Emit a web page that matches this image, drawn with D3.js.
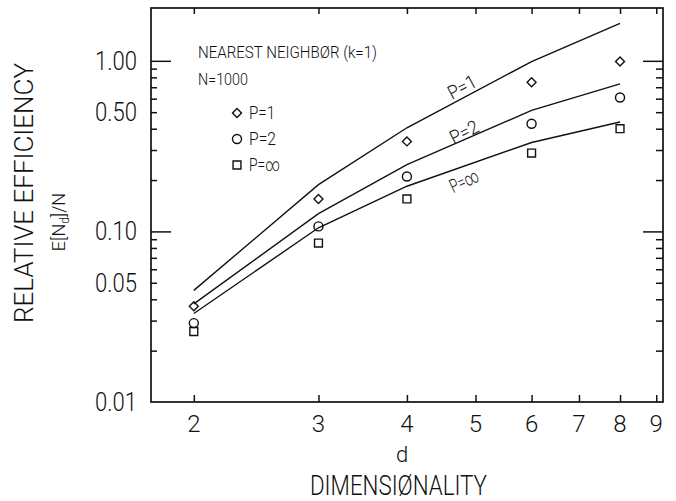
<!DOCTYPE html>
<html>
<head>
<meta charset="utf-8">
<script src="https://cdn.jsdelivr.net/npm/d3@7"></script>
<style>
  body { margin: 0; background: #fff; }
  svg { display: block; }
  text { font-family: Roboto, "DejaVu Sans", sans-serif; font-weight: 300; fill: #111; }
</style>
</head>
<body>
<svg id="chart" width="676" height="501"></svg>
<script>
// Dimensionality values at which efficiencies were evaluated
const dims = [2, 3, 4, 6, 8];

// Simulated relative efficiency E[N_d]/N (markers)
const effP1   = [0.0364, 0.155, 0.337, 0.748, 0.99];
const effP2   = [0.029, 0.107, 0.210, 0.428, 0.610];
const effPinf = [0.0259, 0.0855, 0.155, 0.288, 0.40];

// Predicted relative efficiency (curves)
const curveP1   = [0.0451, 0.188, 0.405, 0.99, 1.66];
const curveP2   = [0.0376, 0.127, 0.246, 0.512, 0.733];
const curvePinf = [0.033, 0.105, 0.184, 0.332, 0.438];

// Axis ticks
const xTicks = [2, 3, 4, 5, 6, 7, 8, 9];
const yLabelTicks = [0.01, 0.05, 0.1, 0.5, 1];
const yLabelText = ["0.01", "0.05", "0.10", "0.50", "1.00"];
const yMajorTicks = [0.1, 1];
const yMinorTicks = [0.02, 0.03, 0.04, 0.05, 0.06, 0.07, 0.08, 0.09,
                     0.2, 0.3, 0.4, 0.5, 0.6, 0.7, 0.8, 0.9];

const svg = d3.select("#chart");
const frameL = 151, frameR = 663, frameT = 8, frameB = 402;

const x = d3.scaleLog().domain([1.74, 9.2]).range([frameL, frameR]);
const y = d3.scaleLog().domain([0.01, 2.04]).range([frameB, frameT]);

// Plot frame
svg.append("rect")
  .attr("x", frameL).attr("y", frameT)
  .attr("width", frameR - frameL).attr("height", frameB - frameT)
  .attr("fill", "none").attr("stroke", "#111").attr("stroke-width", 1.7);

// Inward ticks on all four sides
function tickAxis(axis, tx, ty) {
  const g = svg.append("g").attr("transform", `translate(${tx},${ty})`).call(axis);
  g.select(".domain").remove();
  g.selectAll(".tick line").attr("stroke", "#111").attr("stroke-width", 1.5);
  g.selectAll(".tick text").remove();
  return g;
}
tickAxis(d3.axisBottom(x).tickValues(xTicks).tickSize(-7).tickFormat(""), 0, frameB);
tickAxis(d3.axisTop(x).tickValues(xTicks).tickSize(-6).tickFormat(""), 0, frameT);
tickAxis(d3.axisLeft(y).tickValues(yMinorTicks).tickSize(-6).tickFormat(""), frameL, 0);
tickAxis(d3.axisLeft(y).tickValues(yMajorTicks).tickSize(-20).tickFormat(""), frameL, 0);
tickAxis(d3.axisRight(y).tickValues(yMinorTicks).tickSize(-7).tickFormat(""), frameR, 0);
tickAxis(d3.axisRight(y).tickValues(yMajorTicks).tickSize(-20).tickFormat(""), frameR, 0);

// Tick labels
svg.append("g").selectAll("text").data(yLabelTicks).join("text")
  .attr("x", 137).attr("y", d => y(d) + 9)
  .attr("text-anchor", "end")
  .attr("font-size", 25)
  .attr("textLength", 42).attr("lengthAdjust", "spacingAndGlyphs")
  .text((d, i) => yLabelText[i]);

svg.append("g").selectAll("text").data(xTicks).join("text")
  .attr("x", d => x(d)).attr("y", 432)
  .attr("text-anchor", "middle")
  .attr("font-size", 24)
  .text(d => d);

// Axis titles
svg.append("text")
  .attr("transform", "translate(33,193) rotate(-90)")
  .attr("text-anchor", "middle").attr("font-size", 25)
  .attr("textLength", 260).attr("lengthAdjust", "spacingAndGlyphs")
  .text("RELATIVE EFFICIENCY");

const yt2 = svg.append("text")
  .attr("transform", "translate(65,222) rotate(-90)")
  .attr("text-anchor", "middle").attr("font-size", 18)
  .attr("font-weight", 400);
yt2.append("tspan").text("E[N");
yt2.append("tspan").attr("font-size", 12).attr("dy", 4).text("d");
yt2.append("tspan").attr("dy", -4).text("]/N");

svg.append("text")
  .attr("x", 402).attr("y", 462)
  .attr("text-anchor", "middle").attr("font-size", 22)
  .text("d");

svg.append("text")
  .attr("x", 398.5).attr("y", 495)
  .attr("text-anchor", "middle").attr("font-size", 27)
  .attr("textLength", 177).attr("lengthAdjust", "spacingAndGlyphs")
  .text("DIMENSIØNALITY");

// Annotations
svg.append("text")
  .attr("x", 198).attr("y", 58).attr("font-size", 17)
  .attr("textLength", 179).attr("lengthAdjust", "spacingAndGlyphs")
  .text("NEAREST NEIGHBØR (k=1)");
svg.append("text")
  .attr("x", 198).attr("y", 85).attr("font-size", 17)
  .attr("textLength", 50).attr("lengthAdjust", "spacingAndGlyphs")
  .text("N=1000");

// Curves
const line = d3.line().x(d => x(d[0])).y(d => y(d[1]));
[curveP1, curveP2, curvePinf].forEach(vals => {
  svg.append("path")
    .datum(dims.map((d, i) => [d, vals[i]]))
    .attr("d", line)
    .attr("fill", "none").attr("stroke", "#111").attr("stroke-width", 1.4);
});

// Curve labels
const curveLabels = [
  { text: "P=1", cx: 462, cy: 87, angle: -28 },
  { text: "P=2", cx: 464, cy: 132, angle: -27 },
  { text: "P=∞", cx: 464, cy: 181, angle: -25 }
];
svg.append("g").selectAll("text").data(curveLabels).join("text")
  .attr("transform", d => `translate(${d.cx},${d.cy}) rotate(${d.angle})`)
  .attr("text-anchor", "middle").attr("dy", "0.35em")
  .attr("font-size", 19)
  .attr("textLength", 30).attr("lengthAdjust", "spacingAndGlyphs")
  .text(d => d.text);

// Markers
const markerSeries = [
  { vals: effP1, type: d3.symbolSquare, size: 40, rot: 45, label: "P=1", ly: 113, tl: 26 },
  { vals: effP2, type: d3.symbolCircle, size: 64, rot: 0, label: "P=2", ly: 139, tl: 27 },
  { vals: effPinf, type: d3.symbolSquare, size: 62, rot: 0, label: "P=∞", ly: 165, tl: 31 }
];
markerSeries.forEach(s => {
  const sym = d3.symbol().type(s.type).size(s.size);
  svg.append("g").selectAll("path").data(dims.map((d, i) => [d, s.vals[i]])).join("path")
    .attr("transform", d => `translate(${x(d[0])},${y(d[1])}) rotate(${s.rot})`)
    .attr("d", sym)
    .attr("fill", "none").attr("stroke", "#111").attr("stroke-width", 1.4);
  // legend entry
  svg.append("path")
    .attr("transform", `translate(237,${s.ly}) rotate(${s.rot})`)
    .attr("d", sym)
    .attr("fill", "none").attr("stroke", "#111").attr("stroke-width", 1.4);
  svg.append("text")
    .attr("x", 249).attr("y", s.ly + 6).attr("font-size", 18)
    .attr("textLength", s.tl).attr("lengthAdjust", "spacingAndGlyphs")
    .text(s.label);
});
</script>
</body>
</html>
